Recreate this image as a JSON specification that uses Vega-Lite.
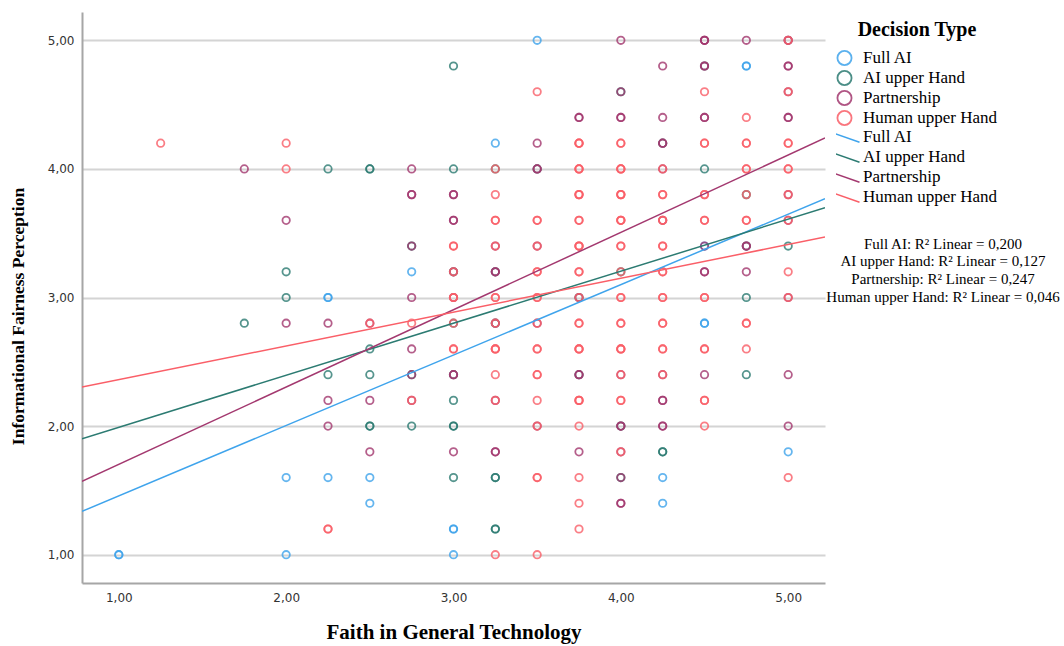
{
  "$schema": "https://vega.github.io/schema/vega-lite/v6.json",
  "width": 743,
  "height": 571,
  "autosize": {"type": "none"},
  "padding": {"left": 82, "top": 12, "right": 239, "bottom": 63},
  "background": "white",
  "config": {"view": {"stroke": null}, "font": "Liberation Serif"},
  "datasets": {
    "pts": [
      {"x":1,"y":1,"type":"Full AI"},{"x":1,"y":1,"type":"Full AI"},{"x":2,"y":1.6,"type":"Full AI"},{"x":2,"y":1,"type":"Full AI"},
      {"x":2.25,"y":3,"type":"Full AI"},{"x":2.25,"y":3,"type":"Full AI"},{"x":2.25,"y":1.6,"type":"Full AI"},{"x":2.5,"y":1.6,"type":"Full AI"},
      {"x":2.5,"y":1.4,"type":"Full AI"},{"x":2.75,"y":3.2,"type":"Full AI"},{"x":3,"y":1.2,"type":"Full AI"},{"x":3,"y":1.2,"type":"Full AI"},
      {"x":3,"y":1,"type":"Full AI"},{"x":3.25,"y":4.2,"type":"Full AI"},{"x":3.5,"y":5,"type":"Full AI"},{"x":4.25,"y":1.6,"type":"Full AI"},
      {"x":4.25,"y":1.4,"type":"Full AI"},{"x":4.5,"y":3.4,"type":"Full AI"},{"x":4.5,"y":2.8,"type":"Full AI"},{"x":4.5,"y":2.8,"type":"Full AI"},
      {"x":4.75,"y":4.8,"type":"Full AI"},{"x":4.75,"y":4.8,"type":"Full AI"},{"x":5,"y":1.8,"type":"Full AI"},

      {"x":1.75,"y":2.8,"type":"AI upper Hand"},{"x":2,"y":3.2,"type":"AI upper Hand"},{"x":2,"y":3,"type":"AI upper Hand"},{"x":2.25,"y":4,"type":"AI upper Hand"},
      {"x":2.25,"y":2.4,"type":"AI upper Hand"},{"x":2.5,"y":4,"type":"AI upper Hand"},{"x":2.5,"y":4,"type":"AI upper Hand"},{"x":2.5,"y":2.6,"type":"AI upper Hand"},
      {"x":2.5,"y":2.4,"type":"AI upper Hand"},{"x":2.5,"y":2,"type":"AI upper Hand"},{"x":2.5,"y":2,"type":"AI upper Hand"},{"x":2.75,"y":3.4,"type":"AI upper Hand"},
      {"x":2.75,"y":2.4,"type":"AI upper Hand"},{"x":2.75,"y":2,"type":"AI upper Hand"},{"x":3,"y":4.8,"type":"AI upper Hand"},{"x":3,"y":4,"type":"AI upper Hand"},
      {"x":3,"y":3.2,"type":"AI upper Hand"},{"x":3,"y":2.8,"type":"AI upper Hand"},{"x":3,"y":2.4,"type":"AI upper Hand"},{"x":3,"y":2.2,"type":"AI upper Hand"},
      {"x":3,"y":2,"type":"AI upper Hand"},{"x":3,"y":2,"type":"AI upper Hand"},{"x":3,"y":1.6,"type":"AI upper Hand"},{"x":3.25,"y":4,"type":"AI upper Hand"},
      {"x":3.25,"y":3.2,"type":"AI upper Hand"},{"x":3.25,"y":2.8,"type":"AI upper Hand"},{"x":3.25,"y":1.6,"type":"AI upper Hand"},{"x":3.25,"y":1.6,"type":"AI upper Hand"},
      {"x":3.25,"y":1.2,"type":"AI upper Hand"},{"x":3.25,"y":1.2,"type":"AI upper Hand"},{"x":3.5,"y":4,"type":"AI upper Hand"},{"x":3.75,"y":3,"type":"AI upper Hand"},
      {"x":3.75,"y":2.4,"type":"AI upper Hand"},{"x":4,"y":4.6,"type":"AI upper Hand"},{"x":4,"y":3.2,"type":"AI upper Hand"},{"x":4,"y":2,"type":"AI upper Hand"},
      {"x":4,"y":1.6,"type":"AI upper Hand"},{"x":4.25,"y":4.2,"type":"AI upper Hand"},{"x":4.25,"y":1.8,"type":"AI upper Hand"},{"x":4.25,"y":1.8,"type":"AI upper Hand"},
      {"x":4.5,"y":4.8,"type":"AI upper Hand"},{"x":4.5,"y":4,"type":"AI upper Hand"},{"x":4.75,"y":3.8,"type":"AI upper Hand"},{"x":4.75,"y":3.4,"type":"AI upper Hand"},
      {"x":4.75,"y":3,"type":"AI upper Hand"},{"x":4.75,"y":2.4,"type":"AI upper Hand"},{"x":5,"y":3.4,"type":"AI upper Hand"},

      {"x":1.75,"y":4,"type":"Partnership"},{"x":2,"y":3.6,"type":"Partnership"},{"x":2,"y":2.8,"type":"Partnership"},{"x":2.25,"y":2.8,"type":"Partnership"},
      {"x":2.25,"y":2.2,"type":"Partnership"},{"x":2.25,"y":2,"type":"Partnership"},{"x":2.5,"y":2.8,"type":"Partnership"},{"x":2.5,"y":2.2,"type":"Partnership"},
      {"x":2.5,"y":1.8,"type":"Partnership"},{"x":2.75,"y":4,"type":"Partnership"},{"x":2.75,"y":3.8,"type":"Partnership"},{"x":2.75,"y":3.8,"type":"Partnership"},
      {"x":2.75,"y":3.4,"type":"Partnership"},{"x":2.75,"y":3,"type":"Partnership"},{"x":2.75,"y":2.6,"type":"Partnership"},{"x":2.75,"y":2.4,"type":"Partnership"},
      {"x":2.75,"y":2.2,"type":"Partnership"},{"x":3,"y":3.8,"type":"Partnership"},{"x":3,"y":3.8,"type":"Partnership"},{"x":3,"y":3.6,"type":"Partnership"},
      {"x":3,"y":3.6,"type":"Partnership"},{"x":3,"y":3.2,"type":"Partnership"},{"x":3,"y":3,"type":"Partnership"},{"x":3,"y":2.4,"type":"Partnership"},
      {"x":3,"y":2.4,"type":"Partnership"},{"x":3,"y":1.8,"type":"Partnership"},{"x":3.25,"y":3.4,"type":"Partnership"},{"x":3.25,"y":3.2,"type":"Partnership"},
      {"x":3.25,"y":3.2,"type":"Partnership"},{"x":3.25,"y":2.8,"type":"Partnership"},{"x":3.25,"y":2.2,"type":"Partnership"},{"x":3.25,"y":1.8,"type":"Partnership"},
      {"x":3.25,"y":1.8,"type":"Partnership"},{"x":3.5,"y":4.2,"type":"Partnership"},{"x":3.5,"y":4,"type":"Partnership"},{"x":3.5,"y":4,"type":"Partnership"},
      {"x":3.5,"y":3.4,"type":"Partnership"},{"x":3.5,"y":2.8,"type":"Partnership"},{"x":3.5,"y":2,"type":"Partnership"},{"x":3.75,"y":4.4,"type":"Partnership"},
      {"x":3.75,"y":4.4,"type":"Partnership"},{"x":3.75,"y":3,"type":"Partnership"},{"x":3.75,"y":2.4,"type":"Partnership"},{"x":3.75,"y":2.4,"type":"Partnership"},
      {"x":3.75,"y":1.8,"type":"Partnership"},{"x":4,"y":5,"type":"Partnership"},{"x":4,"y":4.6,"type":"Partnership"},{"x":4,"y":4.4,"type":"Partnership"},
      {"x":4,"y":4.4,"type":"Partnership"},{"x":4,"y":2.4,"type":"Partnership"},{"x":4,"y":2,"type":"Partnership"},{"x":4,"y":2,"type":"Partnership"},
      {"x":4,"y":1.8,"type":"Partnership"},{"x":4,"y":1.6,"type":"Partnership"},{"x":4,"y":1.4,"type":"Partnership"},{"x":4,"y":1.4,"type":"Partnership"},
      {"x":4.25,"y":4.8,"type":"Partnership"},{"x":4.25,"y":4.4,"type":"Partnership"},{"x":4.25,"y":4.2,"type":"Partnership"},{"x":4.25,"y":4.2,"type":"Partnership"},
      {"x":4.25,"y":4,"type":"Partnership"},{"x":4.25,"y":3.6,"type":"Partnership"},{"x":4.25,"y":2.4,"type":"Partnership"},{"x":4.25,"y":2.2,"type":"Partnership"},
      {"x":4.25,"y":2.2,"type":"Partnership"},{"x":4.25,"y":2,"type":"Partnership"},{"x":4.25,"y":2,"type":"Partnership"},{"x":4.5,"y":5,"type":"Partnership"},
      {"x":4.5,"y":5,"type":"Partnership"},{"x":4.5,"y":5,"type":"Partnership"},{"x":4.5,"y":4.8,"type":"Partnership"},{"x":4.5,"y":4.8,"type":"Partnership"},
      {"x":4.5,"y":4.4,"type":"Partnership"},{"x":4.5,"y":4.4,"type":"Partnership"},{"x":4.5,"y":3.4,"type":"Partnership"},{"x":4.5,"y":3.2,"type":"Partnership"},
      {"x":4.5,"y":3.2,"type":"Partnership"},{"x":4.5,"y":2.4,"type":"Partnership"},{"x":4.75,"y":5,"type":"Partnership"},{"x":4.75,"y":3.4,"type":"Partnership"},
      {"x":4.75,"y":3.4,"type":"Partnership"},{"x":4.75,"y":3.2,"type":"Partnership"},{"x":5,"y":5,"type":"Partnership"},{"x":5,"y":5,"type":"Partnership"},
      {"x":5,"y":4.8,"type":"Partnership"},{"x":5,"y":4.8,"type":"Partnership"},{"x":5,"y":4.6,"type":"Partnership"},{"x":5,"y":4.4,"type":"Partnership"},
      {"x":5,"y":4.4,"type":"Partnership"},{"x":5,"y":3.8,"type":"Partnership"},{"x":5,"y":3.6,"type":"Partnership"},{"x":5,"y":3,"type":"Partnership"},
      {"x":5,"y":2.4,"type":"Partnership"},{"x":5,"y":2,"type":"Partnership"},

      {"x":1.25,"y":4.2,"type":"Human upper Hand"},{"x":2,"y":4.2,"type":"Human upper Hand"},{"x":2,"y":4,"type":"Human upper Hand"},{"x":2.25,"y":1.2,"type":"Human upper Hand"},
      {"x":2.25,"y":1.2,"type":"Human upper Hand"},{"x":2.5,"y":2.8,"type":"Human upper Hand"},{"x":2.75,"y":2.8,"type":"Human upper Hand"},{"x":2.75,"y":2.2,"type":"Human upper Hand"},
      {"x":3,"y":3.4,"type":"Human upper Hand"},{"x":3,"y":3.4,"type":"Human upper Hand"},{"x":3,"y":3.2,"type":"Human upper Hand"},{"x":3,"y":3,"type":"Human upper Hand"},
      {"x":3,"y":3,"type":"Human upper Hand"},{"x":3,"y":2.8,"type":"Human upper Hand"},{"x":3,"y":2.6,"type":"Human upper Hand"},{"x":3,"y":2.6,"type":"Human upper Hand"},
      {"x":3.25,"y":4,"type":"Human upper Hand"},{"x":3.25,"y":3.8,"type":"Human upper Hand"},{"x":3.25,"y":3.6,"type":"Human upper Hand"},{"x":3.25,"y":3.6,"type":"Human upper Hand"},
      {"x":3.25,"y":3.4,"type":"Human upper Hand"},{"x":3.25,"y":3,"type":"Human upper Hand"},{"x":3.25,"y":3,"type":"Human upper Hand"},{"x":3.25,"y":2.8,"type":"Human upper Hand"},
      {"x":3.25,"y":2.6,"type":"Human upper Hand"},{"x":3.25,"y":2.6,"type":"Human upper Hand"},{"x":3.25,"y":2.6,"type":"Human upper Hand"},{"x":3.25,"y":2.4,"type":"Human upper Hand"},
      {"x":3.25,"y":2.2,"type":"Human upper Hand"},{"x":3.25,"y":1,"type":"Human upper Hand"},{"x":3.5,"y":4.6,"type":"Human upper Hand"},{"x":3.5,"y":3.6,"type":"Human upper Hand"},
      {"x":3.5,"y":3.6,"type":"Human upper Hand"},{"x":3.5,"y":3.4,"type":"Human upper Hand"},{"x":3.5,"y":3.2,"type":"Human upper Hand"},{"x":3.5,"y":3.2,"type":"Human upper Hand"},
      {"x":3.5,"y":3,"type":"Human upper Hand"},{"x":3.5,"y":3,"type":"Human upper Hand"},{"x":3.5,"y":2.8,"type":"Human upper Hand"},{"x":3.5,"y":2.6,"type":"Human upper Hand"},
      {"x":3.5,"y":2.6,"type":"Human upper Hand"},{"x":3.5,"y":2.4,"type":"Human upper Hand"},{"x":3.5,"y":2.4,"type":"Human upper Hand"},{"x":3.5,"y":2.2,"type":"Human upper Hand"},
      {"x":3.5,"y":2,"type":"Human upper Hand"},{"x":3.5,"y":1.6,"type":"Human upper Hand"},{"x":3.5,"y":1.6,"type":"Human upper Hand"},{"x":3.5,"y":1,"type":"Human upper Hand"},
      {"x":3.75,"y":4.2,"type":"Human upper Hand"},{"x":3.75,"y":4.2,"type":"Human upper Hand"},{"x":3.75,"y":4.2,"type":"Human upper Hand"},{"x":3.75,"y":4,"type":"Human upper Hand"},
      {"x":3.75,"y":4,"type":"Human upper Hand"},{"x":3.75,"y":4,"type":"Human upper Hand"},{"x":3.75,"y":3.8,"type":"Human upper Hand"},{"x":3.75,"y":3.8,"type":"Human upper Hand"},
      {"x":3.75,"y":3.8,"type":"Human upper Hand"},{"x":3.75,"y":3.6,"type":"Human upper Hand"},{"x":3.75,"y":3.6,"type":"Human upper Hand"},{"x":3.75,"y":3.4,"type":"Human upper Hand"},
      {"x":3.75,"y":3.4,"type":"Human upper Hand"},{"x":3.75,"y":3.4,"type":"Human upper Hand"},{"x":3.75,"y":3.2,"type":"Human upper Hand"},{"x":3.75,"y":3.2,"type":"Human upper Hand"},
      {"x":3.75,"y":3,"type":"Human upper Hand"},{"x":3.75,"y":2.8,"type":"Human upper Hand"},{"x":3.75,"y":2.8,"type":"Human upper Hand"},{"x":3.75,"y":2.6,"type":"Human upper Hand"},
      {"x":3.75,"y":2.6,"type":"Human upper Hand"},{"x":3.75,"y":2.6,"type":"Human upper Hand"},{"x":3.75,"y":2.2,"type":"Human upper Hand"},{"x":3.75,"y":2.2,"type":"Human upper Hand"},
      {"x":3.75,"y":2.2,"type":"Human upper Hand"},{"x":3.75,"y":2,"type":"Human upper Hand"},{"x":3.75,"y":1.6,"type":"Human upper Hand"},{"x":3.75,"y":1.4,"type":"Human upper Hand"},
      {"x":3.75,"y":1.2,"type":"Human upper Hand"},{"x":4,"y":4.2,"type":"Human upper Hand"},{"x":4,"y":4.2,"type":"Human upper Hand"},{"x":4,"y":4,"type":"Human upper Hand"},
      {"x":4,"y":4,"type":"Human upper Hand"},{"x":4,"y":4,"type":"Human upper Hand"},{"x":4,"y":3.8,"type":"Human upper Hand"},{"x":4,"y":3.8,"type":"Human upper Hand"},
      {"x":4,"y":3.8,"type":"Human upper Hand"},{"x":4,"y":3.6,"type":"Human upper Hand"},{"x":4,"y":3.6,"type":"Human upper Hand"},{"x":4,"y":3.6,"type":"Human upper Hand"},
      {"x":4,"y":3.4,"type":"Human upper Hand"},{"x":4,"y":3.4,"type":"Human upper Hand"},{"x":4,"y":3.2,"type":"Human upper Hand"},{"x":4,"y":3,"type":"Human upper Hand"},
      {"x":4,"y":3,"type":"Human upper Hand"},{"x":4,"y":2.8,"type":"Human upper Hand"},{"x":4,"y":2.8,"type":"Human upper Hand"},{"x":4,"y":2.6,"type":"Human upper Hand"},
      {"x":4,"y":2.6,"type":"Human upper Hand"},{"x":4,"y":2.6,"type":"Human upper Hand"},{"x":4,"y":2.4,"type":"Human upper Hand"},{"x":4,"y":2.2,"type":"Human upper Hand"},
      {"x":4,"y":2.2,"type":"Human upper Hand"},{"x":4,"y":1.8,"type":"Human upper Hand"},{"x":4.25,"y":4,"type":"Human upper Hand"},{"x":4.25,"y":3.8,"type":"Human upper Hand"},
      {"x":4.25,"y":3.8,"type":"Human upper Hand"},{"x":4.25,"y":3.6,"type":"Human upper Hand"},{"x":4.25,"y":3.6,"type":"Human upper Hand"},{"x":4.25,"y":3.4,"type":"Human upper Hand"},
      {"x":4.25,"y":3.4,"type":"Human upper Hand"},{"x":4.25,"y":3.2,"type":"Human upper Hand"},{"x":4.25,"y":3.2,"type":"Human upper Hand"},{"x":4.25,"y":3,"type":"Human upper Hand"},
      {"x":4.25,"y":3,"type":"Human upper Hand"},{"x":4.25,"y":2.8,"type":"Human upper Hand"},{"x":4.25,"y":2.8,"type":"Human upper Hand"},{"x":4.25,"y":2.6,"type":"Human upper Hand"},
      {"x":4.25,"y":2.6,"type":"Human upper Hand"},{"x":4.25,"y":2.4,"type":"Human upper Hand"},{"x":4.5,"y":4.6,"type":"Human upper Hand"},{"x":4.5,"y":4.2,"type":"Human upper Hand"},
      {"x":4.5,"y":4.2,"type":"Human upper Hand"},{"x":4.5,"y":3.8,"type":"Human upper Hand"},{"x":4.5,"y":3.8,"type":"Human upper Hand"},{"x":4.5,"y":3.6,"type":"Human upper Hand"},
      {"x":4.5,"y":3.6,"type":"Human upper Hand"},{"x":4.5,"y":3,"type":"Human upper Hand"},{"x":4.5,"y":3,"type":"Human upper Hand"},{"x":4.5,"y":2.6,"type":"Human upper Hand"},
      {"x":4.5,"y":2.6,"type":"Human upper Hand"},{"x":4.5,"y":2.2,"type":"Human upper Hand"},{"x":4.5,"y":2.2,"type":"Human upper Hand"},{"x":4.5,"y":2,"type":"Human upper Hand"},
      {"x":4.75,"y":4.4,"type":"Human upper Hand"},{"x":4.75,"y":4.2,"type":"Human upper Hand"},{"x":4.75,"y":4.2,"type":"Human upper Hand"},{"x":4.75,"y":4,"type":"Human upper Hand"},
      {"x":4.75,"y":4,"type":"Human upper Hand"},{"x":4.75,"y":3.8,"type":"Human upper Hand"},{"x":4.75,"y":3.6,"type":"Human upper Hand"},{"x":4.75,"y":3.6,"type":"Human upper Hand"},
      {"x":4.75,"y":2.8,"type":"Human upper Hand"},{"x":4.75,"y":2.8,"type":"Human upper Hand"},{"x":4.75,"y":2.6,"type":"Human upper Hand"},{"x":5,"y":5,"type":"Human upper Hand"},
      {"x":5,"y":4.6,"type":"Human upper Hand"},{"x":5,"y":4.2,"type":"Human upper Hand"},{"x":5,"y":4.2,"type":"Human upper Hand"},{"x":5,"y":4,"type":"Human upper Hand"},
      {"x":5,"y":4,"type":"Human upper Hand"},{"x":5,"y":3.8,"type":"Human upper Hand"},{"x":5,"y":3.6,"type":"Human upper Hand"},{"x":5,"y":3.2,"type":"Human upper Hand"},
      {"x":5,"y":3,"type":"Human upper Hand"},{"x":5,"y":1.6,"type":"Human upper Hand"}
    ],
    "fits": [
      {"x":0.78,"y":1.337,"fit":"Full AI"},{"x":5.22,"y":3.768,"fit":"Full AI"},
      {"x":0.78,"y":1.902,"fit":"AI upper Hand"},{"x":5.22,"y":3.698,"fit":"AI upper Hand"},
      {"x":0.78,"y":1.570,"fit":"Partnership"},{"x":5.22,"y":4.240,"fit":"Partnership"},
      {"x":0.78,"y":2.303,"fit":"Human upper Hand"},{"x":5.22,"y":3.470,"fit":"Human upper Hand"}
    ]
  },
  "layer": [
    {
      "data": {"name": "pts"},
      "mark": {"type": "point", "shape": "circle", "filled": false, "size": 55, "strokeWidth": 1.8, "opacity": 0.8},
      "encoding": {
        "x": {
          "field": "x", "type": "quantitative",
          "scale": {"domain": [0.78, 5.22], "nice": false, "zero": false},
          "axis": {
            "values": [1, 2, 3, 4, 5], "grid": false, "ticks": false,
            "domainColor": "#a6a6a6", "domainWidth": 2,
            "labelFont": "DejaVu Sans", "labelFontSize": 12, "labelColor": "#333333", "labelPadding": 9,
            "labelExpr": "replace(format(datum.value, '.2f'), '.', ',')",
            "title": "Faith in General Technology", "titleFont": "Liberation Serif", "titleFontSize": 21,
            "titleFontWeight": "bold", "titleColor": "#000000", "titlePadding": 18
          }
        },
        "y": {
          "field": "y", "type": "quantitative",
          "scale": {"domain": [0.78, 5.22], "nice": false, "zero": false},
          "axis": {
            "values": [1, 2, 3, 4, 5], "grid": true, "gridColor": "#d4d4d4", "gridWidth": 2, "ticks": false,
            "domainColor": "#a6a6a6", "domainWidth": 2,
            "labelFont": "DejaVu Sans", "labelFontSize": 12, "labelColor": "#333333", "labelPadding": 8,
            "labelExpr": "replace(format(datum.value, '.2f'), '.', ',')",
            "title": "Informational Fairness Perception", "titleFont": "Liberation Serif", "titleFontSize": 17.5,
            "titleFontWeight": "bold", "titleColor": "#000000", "titlePadding": 20, "titleY": 304
          }
        },
        "color": {
          "field": "type", "type": "nominal",
          "scale": {"domain": ["Full AI", "AI upper Hand", "Partnership", "Human upper Hand"],
                    "range": ["#3fa4ec", "#2c7b72", "#a3386f", "#fa5f68"]},
          "legend": {
            "title": "Decision Type", "orient": "none", "legendX": 754, "legendY": 8,
            "titleFont": "Liberation Serif", "titleFontSize": 20, "titleFontWeight": "bold", "titleColor": "#000000",
            "titleAnchor": "middle", "titlePadding": 8,
            "symbolType": "circle", "symbolSize": 200, "symbolStrokeWidth": 1.8, "symbolOpacity": 0.85,
            "labelFont": "Liberation Serif", "labelFontSize": 17, "labelColor": "#000000", "labelOffset": 10,
            "clipHeight": 20, "rowPadding": 0
          }
        }
      }
    },
    {
      "data": {"name": "fits"},
      "mark": {"type": "line", "strokeWidth": 1.5, "clip": true},
      "encoding": {
        "x": {"field": "x", "type": "quantitative"},
        "y": {"field": "y", "type": "quantitative"},
        "stroke": {
          "field": "fit", "type": "nominal",
          "scale": {"domain": ["Full AI", "AI upper Hand", "Partnership", "Human upper Hand"],
                    "range": ["#3fa4ec", "#2c7b72", "#a3386f", "#fa5f68"]},
          "legend": {
            "title": null, "orient": "none", "legendX": 754, "legendY": 115,
            "symbolType": "M-2,-0.7L2,0.7", "symbolSize": 225, "symbolStrokeWidth": 1.5, "symbolFillColor": "transparent",
            "labelFont": "Liberation Serif", "labelFontSize": 17, "labelColor": "#000000", "labelOffset": 10,
            "clipHeight": 20, "rowPadding": 0
          }
        }
      }
    },
    {
      "data": {"values": [{}]},
      "mark": {
        "type": "text", "align": "center", "baseline": "top", "font": "Liberation Serif", "fontSize": 15,
        "lineHeight": 17.7, "color": "#000000",
        "text": ["Full AI: R² Linear = 0,200", "AI upper Hand: R² Linear = 0,127", "Partnership: R² Linear = 0,247", "Human upper Hand: R² Linear = 0,046"]
      },
      "encoding": {
        "x": {"datum": 5.925, "type": "quantitative"},
        "y": {"datum": 3.474, "type": "quantitative"}
      }
    }
  ],
  "resolve": {"scale": {"color": "independent", "stroke": "independent"}}
}
